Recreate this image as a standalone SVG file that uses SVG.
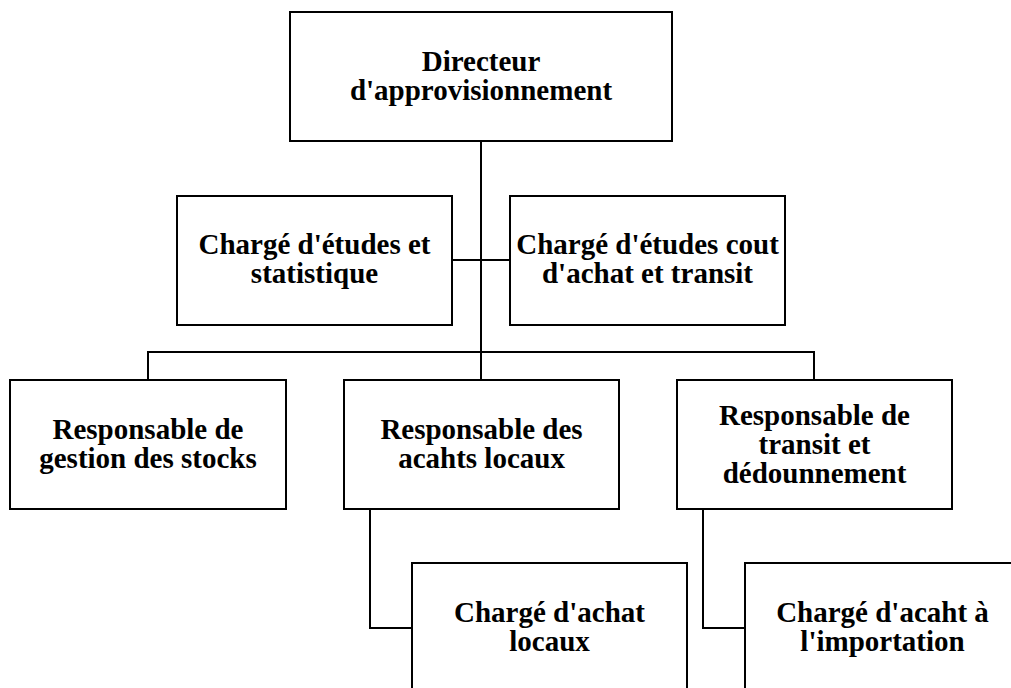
<svg xmlns="http://www.w3.org/2000/svg" width="1011" height="688" viewBox="0 0 1011 688">
<style>
.box{fill:#fff;stroke:#000;stroke-width:2}
.ln{fill:none;stroke:#000;stroke-width:2}
text{font-family:"Liberation Serif","Times New Roman",serif;font-weight:bold;font-size:29px;fill:#000;text-anchor:middle}
</style>
<rect width="1011" height="688" fill="#fff"/>
<g id="connectors">
<path class="ln" d="M481 141V352M452 260H510M148 380V352H814V380M481 352V380M370 509V628H412M703 509V628H745"/>
</g>
<g id="directeur"><rect class="box" x="290" y="12" width="382" height="129"/><text x="481" y="71">Directeur</text><text x="481" y="100">d'approvisionnement</text></g>
<g id="etudes-stat"><rect class="box" x="177" y="196" width="275" height="129"/><text x="314.5" y="254">Chargé d'études et</text><text x="314.5" y="283">statistique</text></g>
<g id="etudes-cout"><rect class="box" x="510" y="196" width="275" height="129"/><text x="647.5" y="254">Chargé d'études cout</text><text x="647.5" y="283">d'achat et transit</text></g>
<g id="resp-stocks"><rect class="box" x="10" y="380" width="276" height="129"/><text x="148" y="439">Responsable de</text><text x="148" y="468">gestion des stocks</text></g>
<g id="resp-achats"><rect class="box" x="344" y="380" width="275" height="129"/><text x="481.5" y="439">Responsable des</text><text x="481.5" y="468">acahts locaux</text></g>
<g id="resp-transit"><rect class="box" x="677" y="380" width="275" height="129"/><text x="814.5" y="425">Responsable de</text><text x="814.5" y="454">transit et</text><text x="814.5" y="483">dédounnement</text></g>
<g id="charge-achat"><rect class="box" x="412" y="563" width="275" height="160"/><text x="549.5" y="622">Chargé d'achat</text><text x="549.5" y="651">locaux</text></g>
<g id="charge-import"><rect class="box" x="745" y="563" width="275" height="160"/><text x="882.5" y="622">Chargé d'acaht à</text><text x="882.5" y="651">l'importation</text></g>
</svg>
